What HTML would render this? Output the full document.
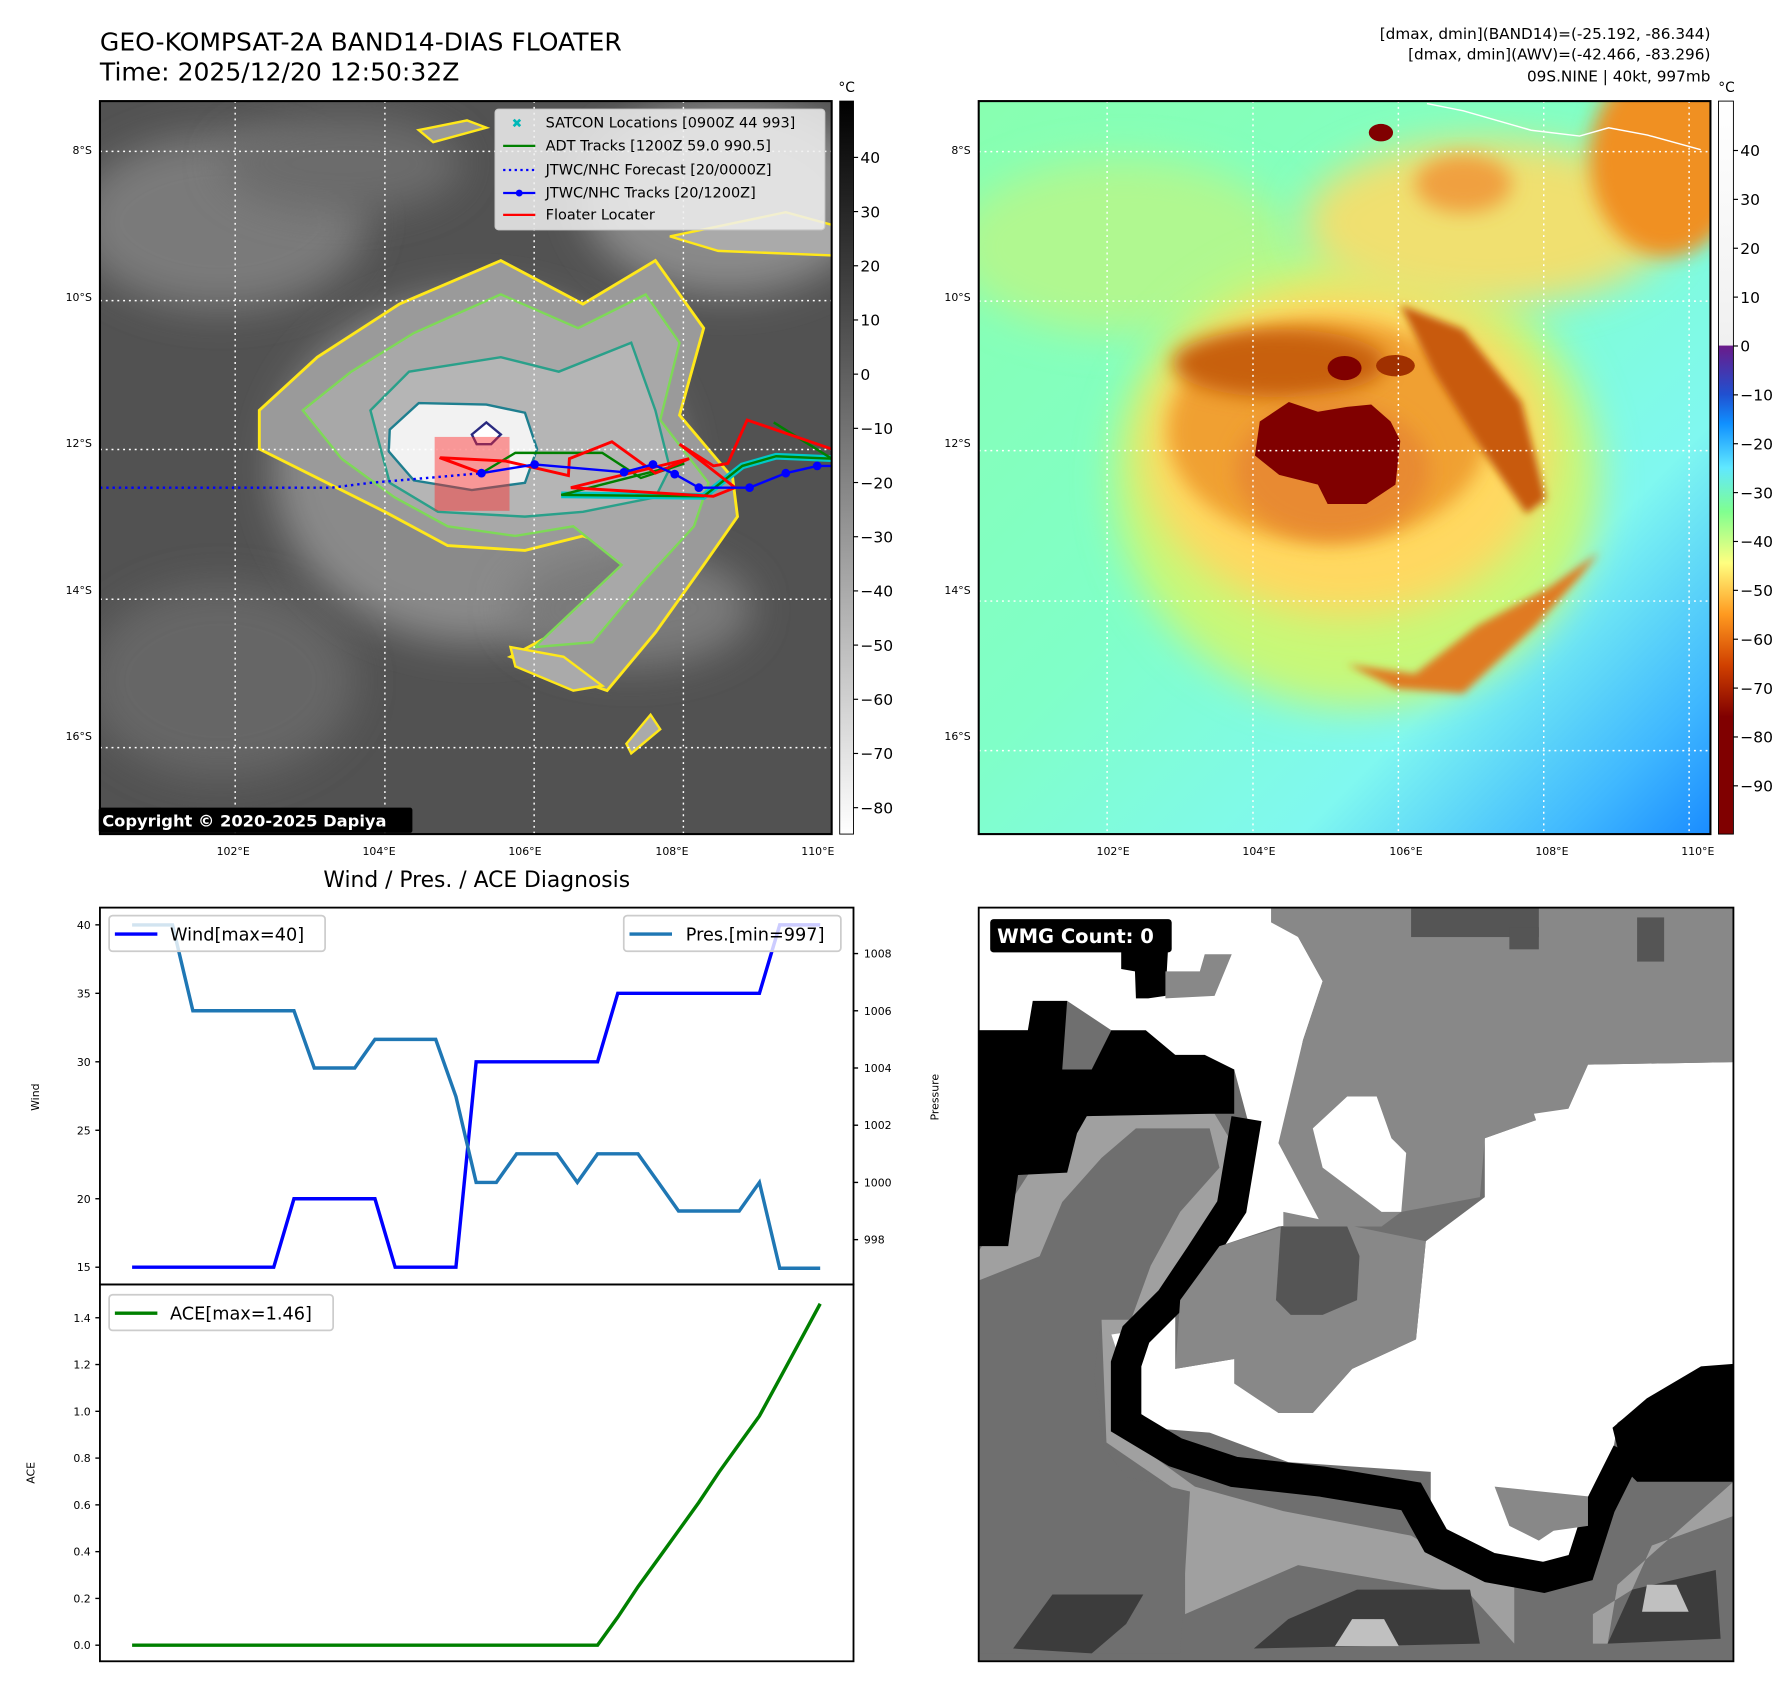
<!DOCTYPE html>
<html><head><meta charset="utf-8"><style>
html,body{margin:0;padding:0;background:#fff}
svg{display:block}
text{font-family:"DejaVu Sans","Liberation Sans",sans-serif}
</style></head><body>
<svg id="root" width="1792" height="1690" viewBox="0 0 1560 1471" preserveAspectRatio="none" xmlns="http://www.w3.org/2000/svg">
<defs>
<filter id="b8" x="-20%" y="-20%" width="140%" height="140%"><feGaussianBlur stdDeviation="8"/></filter>
<filter id="b20" x="-30%" y="-30%" width="160%" height="160%"><feGaussianBlur stdDeviation="20"/></filter>
<filter id="b40" x="-40%" y="-40%" width="180%" height="180%"><feGaussianBlur stdDeviation="40"/></filter>
<linearGradient id="cb1" x1="0" y1="0" x2="0" y2="1"><stop offset="0" stop-color="#000"/><stop offset="1" stop-color="#fff"/></linearGradient>
<linearGradient id="cb2" x1="0" y1="0" x2="0" y2="1">
<stop offset="0" stop-color="#ffffff"/><stop offset="0.333" stop-color="#f0f0f0"/><stop offset="0.334" stop-color="#6a1b8a"/>
<stop offset="0.40" stop-color="#2050d0"/><stop offset="0.44" stop-color="#1090ff"/><stop offset="0.50" stop-color="#60e8ff"/>
<stop offset="0.56" stop-color="#80ff90"/><stop offset="0.63" stop-color="#ffff80"/><stop offset="0.70" stop-color="#ff9a20"/>
<stop offset="0.77" stop-color="#d04000"/><stop offset="0.84" stop-color="#800000"/><stop offset="1" stop-color="#800000"/></linearGradient>
<linearGradient id="m2bg" x1="0" y1="0" x2="1" y2="1"><stop offset="0" stop-color="#88ffb0"/><stop offset="0.45" stop-color="#80ffc8"/><stop offset="0.72" stop-color="#80f8f0"/><stop offset="0.9" stop-color="#40b8ff"/><stop offset="1" stop-color="#1a8cff"/></linearGradient>
<clipPath id="c1"><rect x="0" y="0" width="1515" height="1517"/></clipPath>
</defs>

<text x="87" y="44" font-size="21.8">GEO-KOMPSAT-2A BAND14-DIAS FLOATER</text>
<text x="87" y="70" font-size="21.8">Time: 2025/12/20 12:50:32Z</text>
<g font-size="13.3" text-anchor="end">
<text x="1489" y="34">[dmax, dmin](BAND14)=(-25.192, -86.344)</text>
<text x="1489" y="52">[dmax, dmin](AWV)=(-42.466, -83.296)</text>
<text x="1489" y="71">09S.NINE | 40kt, 997mb</text>
</g>

<svg x="87" y="88" width="637" height="638" viewBox="0 0 1515 1517" preserveAspectRatio="none">
<g clip-path="url(#c1)">
<rect width="1515" height="1517" fill="#525252"/>
<ellipse cx="250" cy="250" rx="300" ry="180" fill="#7a7a7a" filter="url(#b40)"/>
<ellipse cx="500" cy="130" rx="250" ry="100" fill="#6c6c6c" filter="url(#b40)"/>
<ellipse cx="1300" cy="200" rx="300" ry="200" fill="#8a8a8a" filter="url(#b40)"/>
<ellipse cx="250" cy="1200" rx="280" ry="200" fill="#666" filter="url(#b40)"/>
<ellipse cx="780" cy="760" rx="420" ry="360" fill="#8a8a8a" filter="url(#b40)"/>
<ellipse cx="1100" cy="1050" rx="250" ry="120" fill="#7a7a7a" filter="url(#b40)"/>
<path d="M330,640 L450,530 L620,420 L830,330 L1000,420 L1150,330 L1250,470 L1200,650 L1310,780 L1320,860 L1250,960 L1150,1100 L1050,1220 L850,1150 L980,1080 L1120,940 L1000,900 L880,930 L720,920 L590,850 L450,780 L330,720 Z" fill="#9a9a9a" stroke="#ffe81a" stroke-width="6"/>
<path d="M420,640 L520,560 L650,480 L830,400 L990,470 L1130,400 L1200,500 L1160,660 L1260,790 L1230,880 L1120,1000 L1020,1120 L900,1130 L1080,960 L980,880 L860,900 L720,880 L610,820 L500,740 Z" fill="#a8a8a8" stroke="#7ed957" stroke-width="5"/>
<path d="M560,640 L640,560 L830,530 L950,560 L1100,500 L1150,640 L1180,760 L1150,820 L1000,850 L880,860 L700,850 L600,790 Z" fill="#b5b5b5" stroke="#2aa08a" stroke-width="5"/>
<path d="M600,680 L660,625 L800,628 L880,645 L905,720 L880,790 L770,805 L650,785 L598,725 Z" fill="#f2f2f2" stroke="#1f7f8f" stroke-width="5"/>
<path d="M770,690 L800,665 L830,690 L810,710 L780,710 Z" fill="#fff" stroke="#2a2a80" stroke-width="5"/>
<path d="M660,60 L760,40 L800,55 L690,85 Z" fill="#999" stroke="#ffe81a" stroke-width="5"/>
<path d="M1180,280 L1420,230 L1530,260 L1530,320 L1280,310 Z" fill="#aaa" stroke="#ffe81a" stroke-width="5"/>
<path d="M850,1130 L960,1150 L1040,1210 L980,1220 L860,1170 Z" fill="#aaa" stroke="#ffe81a" stroke-width="5"/>
<path d="M1090,1330 L1140,1270 L1160,1300 L1100,1350 Z" fill="#aaa" stroke="#ffe81a" stroke-width="5"/>
<g stroke="#fff" stroke-width="3" stroke-dasharray="4,8">
<line x1="280" y1="0" x2="280" y2="1517"/><line x1="590" y1="0" x2="590" y2="1517"/><line x1="899" y1="0" x2="899" y2="1517"/><line x1="1208" y1="0" x2="1208" y2="1517"/><line x1="1517" y1="0" x2="1517" y2="1517"/>
<line x1="0" y1="104" x2="1515" y2="104"/><line x1="0" y1="413" x2="1515" y2="413"/><line x1="0" y1="721" x2="1515" y2="721"/><line x1="0" y1="1031" x2="1515" y2="1031"/><line x1="0" y1="1338" x2="1515" y2="1338"/>
</g>
<rect x="693" y="695" width="155" height="153" fill="rgba(255,40,40,0.45)"/>
<polyline points="0,800 480,800 560,790 700,778 790,770" fill="none" stroke="#0000ff" stroke-width="5" stroke-dasharray="5,8"/>
<polyline points="955,815 1250,818 1330,755 1400,735 1515,740" fill="none" stroke="#00c8c8" stroke-width="14"/>
<g fill="none" stroke="#008000" stroke-width="5">
<polyline points="790,770 860,728 1040,728 1120,780 1210,750 955,815 1250,818 1330,755 1400,735 1515,740"/>
<polyline points="1395,665 1515,740"/>
</g>
<polyline points="703,738 790,770 705,738 840,745 970,775 972,740 1060,705 1150,770 1220,740 975,800 1270,818 1315,800 1200,710 1270,755 1300,750 1340,660 1515,720" fill="none" stroke="#ff0000" stroke-width="6"/>
<g>
<polyline points="790,770 900,752 1085,768 1145,752 1190,772 1240,800 1345,800 1420,770 1485,755 1515,755" fill="none" stroke="#0000ff" stroke-width="5"/>
<g fill="#0000ff"><circle cx="790" cy="770" r="9"/><circle cx="900" cy="752" r="9"/><circle cx="1085" cy="768" r="9"/><circle cx="1145" cy="752" r="9"/><circle cx="1190" cy="772" r="9"/><circle cx="1240" cy="800" r="9"/><circle cx="1345" cy="800" r="9"/><circle cx="1420" cy="770" r="9"/><circle cx="1485" cy="755" r="9"/></g>
</g>
</g>
</svg>
<rect x="87" y="88" width="637" height="638" fill="none" stroke="#000" stroke-width="1.8"/>
<g>
<rect x="431" y="95" width="287" height="105" rx="3" fill="rgba(240,240,240,0.85)" stroke="#ccc"/>
<g font-size="12.6">
<text x="450" y="111" fill="#00b8b8" font-weight="bold" text-anchor="middle" font-size="11">✖</text><text x="475" y="111">SATCON Locations [0900Z 44 993]</text>
<line x1="438" y1="127" x2="466" y2="127" stroke="#008000" stroke-width="2"/><text x="475" y="131">ADT Tracks [1200Z 59.0 990.5]</text>
<line x1="438" y1="148" x2="466" y2="148" stroke="#0000ff" stroke-width="2" stroke-dasharray="2,3"/><text x="475" y="152">JTWC/NHC Forecast [20/0000Z]</text>
<line x1="438" y1="168" x2="466" y2="168" stroke="#0000ff" stroke-width="2"/><circle cx="452" cy="168" r="3" fill="#0000ff"/><text x="475" y="172">JTWC/NHC Tracks [20/1200Z]</text>
<line x1="438" y1="187" x2="466" y2="187" stroke="#ff0000" stroke-width="2"/><text x="475" y="191">Floater Locater</text>
</g></g>
<rect x="86" y="703" width="273" height="22" rx="2" fill="#000"/>
<text x="89" y="719.5" font-size="14.2" font-weight="bold" fill="#fff">Copyright © 2020-2025 Dapiya</text>
<g font-size="9.5" text-anchor="end">
<text x="80" y="134">8°S</text><text x="80" y="262">10°S</text><text x="80" y="389">12°S</text><text x="80" y="517">14°S</text><text x="80" y="644">16°S</text></g>
<g font-size="9.5" text-anchor="middle">
<text x="203" y="744">102°E</text><text x="330" y="744">104°E</text><text x="457" y="744">106°E</text><text x="585" y="744">108°E</text><text x="712" y="744">110°E</text></g>
<rect x="731" y="88" width="12" height="638" fill="url(#cb1)" stroke="#000" stroke-width="0.8"/>
<text x="737" y="80" font-size="12" text-anchor="middle">°C</text>
<g id="cb1ticks" font-size="13.5"></g>

<svg x="852" y="88" width="637" height="638" viewBox="0 0 1510 1510" preserveAspectRatio="none">
<rect width="1510" height="1510" fill="url(#m2bg)"/>
<ellipse cx="300" cy="300" rx="350" ry="180" fill="#b0f890" filter="url(#b40)"/>
<ellipse cx="780" cy="780" rx="500" ry="470" fill="#c8f878" filter="url(#b40)"/>
<ellipse cx="760" cy="720" rx="420" ry="340" fill="#ffd860" filter="url(#b40)"/>
<ellipse cx="1050" cy="250" rx="380" ry="170" fill="#f0e070" filter="url(#b40)"/>
<ellipse cx="1420" cy="120" rx="160" ry="200" fill="#f09020" filter="url(#b20)"/>
<ellipse cx="1000" cy="170" rx="100" ry="60" fill="#f0a040" filter="url(#b20)"/>
<ellipse cx="720" cy="680" rx="330" ry="230" fill="#f0a030" filter="url(#b20)"/>
<ellipse cx="620" cy="540" rx="220" ry="70" fill="#c86010" filter="url(#b20)"/>
<path d="M870,420 L1000,470 L1120,620 L1170,820 L1130,850 L1040,720 L940,560 Z" fill="#c85a10" filter="url(#b8)"/>
<path d="M760,1160 L900,1180 L1030,1080 L1180,1000 L1280,930 L1240,980 L1150,1080 L1000,1220 L860,1210 Z" fill="#e07a20" filter="url(#b8)"/>
<ellipse cx="730" cy="760" rx="200" ry="140" fill="#e88a30" filter="url(#b20)"/>
<path d="M580,660 L640,620 L700,640 L760,630 L810,625 L850,660 L870,700 L860,790 L800,830 L720,830 L700,790 L620,770 L570,730 Z" fill="#800000"/>
<ellipse cx="755" cy="550" rx="35" ry="25" fill="#800000"/>
<ellipse cx="860" cy="545" rx="40" ry="22" fill="#a03000"/>
<ellipse cx="830" cy="65" rx="25" ry="18" fill="#800000"/>
<polyline points="925,5 1000,20 1140,60 1240,72 1300,55 1380,70 1490,100" fill="none" stroke="#fff" stroke-width="3"/>
<g stroke="#fff" stroke-width="3" stroke-dasharray="4,8">
<line x1="265" y1="0" x2="265" y2="1510"/><line x1="566" y1="0" x2="566" y2="1510"/><line x1="866" y1="0" x2="866" y2="1510"/><line x1="1166" y1="0" x2="1166" y2="1510"/><line x1="1466" y1="0" x2="1466" y2="1510"/>
<line x1="0" y1="104" x2="1510" y2="104"/><line x1="0" y1="412" x2="1510" y2="412"/><line x1="0" y1="720" x2="1510" y2="720"/><line x1="0" y1="1030" x2="1510" y2="1030"/><line x1="0" y1="1338" x2="1510" y2="1338"/>
</g>
</svg>
<rect x="852" y="88" width="637" height="638" fill="none" stroke="#000" stroke-width="1.8"/>
<g font-size="9.5" text-anchor="end">
<text x="845" y="134">8°S</text><text x="845" y="262">10°S</text><text x="845" y="389">12°S</text><text x="845" y="517">14°S</text><text x="845" y="644">16°S</text></g>
<g font-size="9.5" text-anchor="middle">
<text x="969" y="744">102°E</text><text x="1096" y="744">104°E</text><text x="1224" y="744">106°E</text><text x="1351" y="744">108°E</text><text x="1478" y="744">110°E</text></g>
<rect x="1496" y="88" width="13" height="638" fill="url(#cb2)" stroke="#000" stroke-width="0.8"/>
<text x="1503" y="80" font-size="12" text-anchor="middle">°C</text>
<g id="cb2ticks" font-size="13.5"></g>

<text x="415" y="772" font-size="19" text-anchor="middle">Wind / Pres. / ACE Diagnosis</text>
<g id="chart"></g>
<rect x="87" y="790" width="656" height="328" fill="none" stroke="#000" stroke-width="1.6"/>
<rect x="87" y="1118" width="656" height="328" fill="none" stroke="#000" stroke-width="1.6"/>
<text transform="translate(34,955) rotate(-90)" font-size="9.5" text-anchor="middle">Wind</text>
<text transform="translate(817,955) rotate(-90)" font-size="9.5" text-anchor="middle">Pressure</text>
<text transform="translate(30,1282) rotate(-90)" font-size="9.5" text-anchor="middle">ACE</text>
<g><rect x="95" y="797" width="188" height="31" rx="3" fill="rgba(255,255,255,0.8)" stroke="#ccc" stroke-width="1.5"/><line x1="100" y1="813" x2="137" y2="813" stroke="#0000ff" stroke-width="3"/><text x="148" y="818.5" font-size="15.4">Wind[max=40]</text></g>
<g><rect x="543" y="797" width="189" height="31" rx="3" fill="rgba(255,255,255,0.8)" stroke="#ccc" stroke-width="1.5"/><line x1="548" y1="813" x2="585" y2="813" stroke="#1f77b4" stroke-width="3"/><text x="597" y="818.5" font-size="15.4">Pres.[min=997]</text></g>
<g><rect x="95" y="1127" width="195" height="31" rx="3" fill="rgba(255,255,255,0.8)" stroke="#ccc" stroke-width="1.5"/><line x1="100" y1="1143" x2="137" y2="1143" stroke="#008000" stroke-width="3"/><text x="148" y="1148.5" font-size="15.4">ACE[max=1.46]</text></g>

<svg x="852" y="790" width="657" height="656" viewBox="0 0 1536 1536" preserveAspectRatio="none">
<rect width="1536" height="1536" fill="#6f6f6f"/>
<polygon fill="#a0a0a0" points="0,700 100,545 220,425 480,420 540,520 460,700 380,840 320,960 330,1100 440,1180 620,1230 880,1280 1000,1350 1090,1380 1090,1500 1280,1500 1300,1380 1536,1170 1536,1240 1370,1300 1330,1390 1250,1440 1250,1500 1090,1500 1000,1400 650,1340 420,1440 420,1200 260,1090 250,840 330,600 200,600 150,700 0,760"/>
<polygon fill="#6f6f6f" points="0,760 120,720 170,600 250,510 320,450 470,450 490,530 410,620 350,730 310,840 250,840 235,950 255,1100 300,1160 430,1190 410,1520 0,1520"/>
<polygon fill="#3c3c3c" points="70,1510 150,1400 335,1400 300,1460 230,1520"/>
<polygon fill="#3c3c3c" points="560,1510 630,1450 770,1390 1000,1390 1020,1500"/>
<polygon fill="#3c3c3c" points="1280,1500 1330,1390 1500,1350 1510,1490"/>
<polygon fill="#c0c0c0" points="725,1505 760,1450 825,1450 855,1505"/>
<polygon fill="#c0c0c0" points="1350,1435 1360,1380 1420,1380 1445,1435"/>
<polygon fill="#fff" points="0,0 595,0 650,60 700,150 660,270 620,470 700,640 610,650 490,690 400,800 400,940 520,920 580,990 610,1030 680,1030 760,940 890,880 910,680 1030,590 1030,470 1200,410 1240,320 1536,315 1536,930 1430,960 1300,1050 1280,1180 1230,1360 1060,1370 920,1320 920,1150 630,1130 470,1070 340,1060 300,960 270,870 340,860 410,760 470,700 520,600 560,480 520,330 400,300 340,270 270,250 180,190 100,250 0,250"/>
<polygon fill="#000" points="0,250 100,250 110,190 180,190 170,330 230,330 270,250 340,250 400,300 460,300 520,330 520,420 470,420 220,425 200,460 180,540 80,545 60,690 0,690"/>
<polygon fill="#000" points="290,90 385,90 380,180 345,185 320,185 318,130 290,125"/>
<polyline fill="none" stroke="#000" stroke-width="62" stroke-linejoin="miter" points="545,430 515,610 450,710 390,800 320,870 300,930 300,1050 400,1110 520,1150 700,1170 880,1200 930,1290 1040,1345 1150,1365 1225,1345 1265,1220 1320,1110"/>
<polygon fill="#000" points="1290,1060 1360,1000 1470,935 1536,930 1536,1170 1340,1170 1310,1140"/>
<polygon fill="#888" points="595,0 1536,0 1536,315 1240,320 1200,410 1030,470 1020,590 860,620 820,650 700,650 610,480 660,270 700,150 650,60 595,30"/>
<polygon fill="#888" points="620,620 910,680 890,880 760,940 680,1030 610,1030 520,970 520,920 400,940 410,800 490,690 620,650"/>
<polygon fill="#555" points="615,650 750,650 775,710 770,800 700,830 635,830 605,800"/>
<polygon fill="#fff" points="750,385 810,385 840,470 870,500 860,620 820,620 700,530 680,450"/>
<polygon fill="#fff" points="1130,420 1200,410 1190,470 1150,480"/>
<polygon fill="#888" points="1050,1180 1240,1200 1240,1260 1170,1270 1140,1290 1080,1260"/>
<rect x="880" y="0" width="260" height="60" fill="#555"/>
<rect x="1080" y="40" width="60" height="45" fill="#555"/>
<rect x="1340" y="20" width="55" height="90" fill="#555"/>
<polygon fill="#888" points="380,130 450,130 460,95 515,95 480,180 380,185"/>
</svg>
<rect x="852" y="790" width="657" height="656" fill="none" stroke="#000" stroke-width="1.6"/>
<rect x="862" y="800" width="158" height="29" rx="3" fill="#000"/>
<text x="868" y="821" font-size="17" font-weight="bold" fill="#fff">WMG Count: 0</text>
</svg>
<script>
const windVals=[15,15,15,15,15,15,15,15,20,20,20,20,20,15,15,15,15,30,30,30,30,30,30,30,35,35,35,35,35,35,35,35,40,40,40];
const presVals=[1009,1009,1009,1006,1006,1006,1006,1006,1006,1004,1004,1004,1005,1005,1005,1005,1003,1000,1000,1001,1001,1001,1000,1001,1001,1001,1000,999,999,999,999,1000,997,997,997];
const aceVals=[0,0,0,0,0,0,0,0,0,0,0,0,0,0,0,0,0,0,0,0,0,0,0,0,0.12,0.25,0.37,0.49,0.61,0.74,0.86,0.98,1.14,1.30,1.46];
const windTicks=[15,20,25,30,35,40];
const presTicks=[998,1000,1002,1004,1006,1008];
const aceTicks=[0.0,0.2,0.4,0.6,0.8,1.0,1.2,1.4];
const cb1Ticks=[40,30,20,10,0,-10,-20,-30,-40,-50,-60,-70,-80];
const cb2Ticks=[40,30,20,10,0,-10,-20,-30,-40,-50,-60,-70,-80,-90];

const NS="http://www.w3.org/2000/svg";
function mk(tag,attrs,parent){const e=document.createElementNS(NS,tag);for(const k in attrs)e.setAttribute(k,attrs[k]);parent.appendChild(e);return e;}
const X0=115,X1=714;
const xAt=i=>X0+(X1-X0)*i/(windVals.length-1);
const yWind=v=>1103+(v-15)*(805-1103)/25;
const yPres=v=>1079+(v-998)*(830-1079)/10;
const yAce=v=>1432+v*(1147-1432)/1.4;
const yCb1=v=>137+(40-v)*(703-137)/120;
const yCb2=v=>131+(40-v)*(684-131)/130;
const chart=document.getElementById('chart');

function ticks(arr,yf,x,side,fmt,size){arr.forEach(t=>{const y=yf(t);
 const l=mk('line',{x1:x,x2:x+(side<0?-4:4),y1:y,y2:y,stroke:'#000','stroke-width':1.2},chart);
 
 
 const tx=mk('text',{x:x+(side<0?-8:9),y:y+3.5,'font-size':size,'text-anchor':side<0?'end':'start'},chart);
 tx.textContent=fmt(t);
 
 });}
ticks(windTicks,yWind,87,-1,t=>String(t),9.5);
ticks(presTicks,yPres,743,1,t=>String(t),9.5);
ticks(aceTicks,yAce,87,-1,t=>t.toFixed(1),9.5);

function line(vals,yf,color,w,name){const pts=vals.map((v,i)=>xAt(i).toFixed(1)+','+yf(v).toFixed(1)).join(' ');
 const p=mk('polyline',{points:pts,fill:'none',stroke:color,'stroke-width':w,'stroke-linejoin':'miter'},chart);
 
 }
line(windVals,yWind,'#0000ff',3,'wind-line');
line(presVals,yPres,'#1f77b4',3,'pressure-line');
line(aceVals,yAce,'#008000',3,'ace-line');

function cbt(arr,yf,x,gid){const g=document.getElementById(gid);arr.forEach(t=>{const y=yf(t);
 const l=mk('line',{x1:x,x2:x+4,y1:y,y2:y,stroke:'#000','stroke-width':1},g);
 
 
 const tx=mk('text',{x:x+6,y:y+5},g);
 tx.textContent=t<0?'\u2212'+Math.abs(t):String(t);
 
 });}
cbt(cb1Ticks,yCb1,743,'cb1ticks');
cbt(cb2Ticks,yCb2,1509,'cb2ticks');
</script>
</body></html>
